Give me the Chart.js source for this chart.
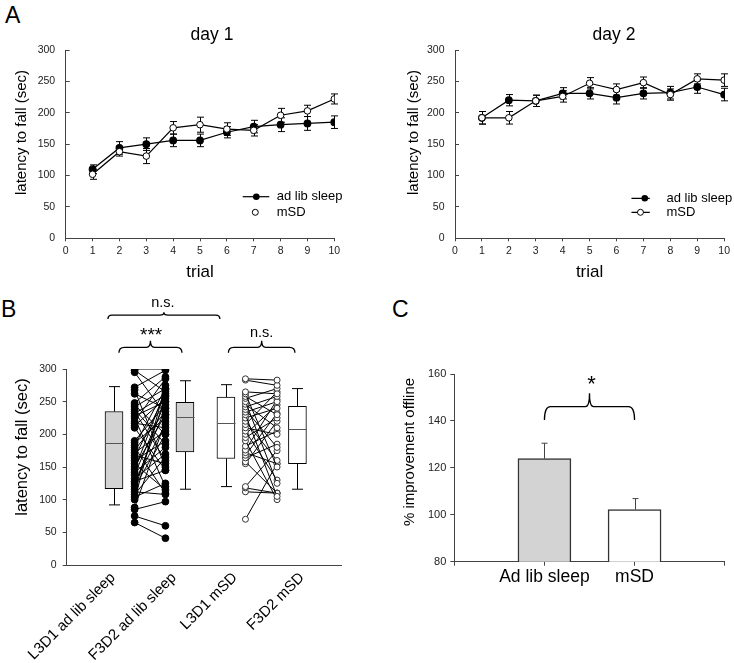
<!DOCTYPE html>
<html><head><meta charset="utf-8">
<script src="https://cdn.jsdelivr.net/npm/chart.js@4/dist/chart.umd.min.js"></script>
<style>
html,body{margin:0;padding:0;background:#fff;width:734px;height:663px;overflow:hidden;font-family:"Liberation Sans",Arial,sans-serif}
.pan{position:absolute}
.letter{position:absolute;font-size:23px;line-height:1;color:#000}
</style></head><body>
<div class="letter" style="left:5px;top:4px">A</div>
<div class="letter" style="left:1px;top:298px">B</div>
<div class="letter" style="left:392px;top:298px">C</div>
<canvas id="a1" class="pan" style="left:0;top:0" width="367" height="290"></canvas>
<canvas id="a2" class="pan" style="left:367px;top:0" width="367" height="290"></canvas>
<canvas id="b" class="pan" style="left:0;top:290px" width="367" height="373"></canvas>
<canvas id="c" class="pan" style="left:367px;top:290px" width="367" height="373"></canvas>
<script>
// ---------- data ----------
const trials = [1,2,3,4,5,6,7,8,9,10];
const day1AdLib    = [110,144,150,156,156,169,178,181,183,185];
const day1AdLibSem = [7,10,10,10,10,9,10,11,11,10];
const day1MSD      = [102,138,131,176,181,174,172,196,203,222];
const day1MSDSem   = [8,7,12,10,12,10,9,11,9,8];
const day2AdLib    = [192,220,219,231,231,224,231,232,241,229];
const day2AdLibSem = [10,9,9,9,9,10,9,10,10,10];
const day2MSD      = [192,192,219,226,247,237,248,229,254,252];
const day2MSDSem   = [10,10,9,9,9,9,9,9,8,10];
const seriesNames  = ['ad lib sleep','mSD'];

const boxCats = ['L3D1 ad lib sleep','F3D2 ad lib sleep','L3D1 mSD','F3D2 mSD'];
const boxLabelPos = [1.68,3.9,6.12,8.56];
const boxPos  = [1.72,4.3,5.79,8.39];
const boxMin  = [92,116,120,116];
const boxQ1   = [117,173,163,155];
const boxMed  = [186,226,217,208];
const boxQ3   = [235,249,257,243];
const boxMax  = [273,282,276,270];
const pairPosAdLib = [2.47,3.59];
const pairPosMSD   = [6.5,7.65];
const adLibL3D1 = [300,298,295,272,268,262,248,245,242,238,235,232,228,225,220,217,213,210,190,187,183,180,176,172,168,164,160,150,146,142,138,132,127,124,120,116,112,108,104,100,88,85,75,65,128,155];
const adLibF3D2 = [300,265,230,298,150,240,288,200,270,185,160,260,250,120,285,210,255,145,245,225,270,110,235,205,155,262,190,230,268,180,250,170,215,240,200,258,108,165,125,275,220,97,60,41,145,115];
const msdL3D1 = [285,283,265,262,258,255,250,246,242,238,234,230,225,220,215,210,205,200,195,190,182,176,172,168,164,158,155,120,118,112,70];
const msdF3D2 = [283,275,262,150,230,270,125,210,258,180,250,105,240,160,265,200,130,245,225,100,205,253,155,232,185,110,220,175,110,110,155];

const groupsC = ['Ad lib sleep','mSD'];
const meanC = [123.9,102.2];
const semC  = [6.6,4.7];

// ---------- helpers ----------
const FF = '"Liberation Sans", Arial, sans-serif';
Chart.defaults.font.family = FF;
Chart.defaults.color = '#222';
Chart.defaults.animation = false;
const AX = '#444';

function vtext(ctx, txt, x, y, size){
  ctx.save(); ctx.translate(x,y); ctx.rotate(-Math.PI/2);
  ctx.font = size+'px '+FF; ctx.fillStyle='#000'; ctx.textAlign='center'; ctx.textBaseline='middle';
  ctx.fillText(txt,0,0); ctx.restore();
}
function text(ctx, txt, x, y, size){
  ctx.save(); ctx.font = size+'px '+FF; ctx.fillStyle='#000'; ctx.textAlign='center'; ctx.textBaseline='middle';
  ctx.fillText(txt,x,y); ctx.restore();
}
function errBars(chart, xs, ys, es, cap, upOnly, color){
  const {ctx, scales:{x,y}} = chart;
  ctx.save(); ctx.strokeStyle=color; ctx.lineWidth=1;
  xs.forEach((xv,i)=>{
    const px = Math.round(x.getPixelForValue(xv))+0.5;
    const top = y.getPixelForValue(ys[i]+es[i]);
    const bot = upOnly ? y.getPixelForValue(ys[i]) : y.getPixelForValue(ys[i]-es[i]);
    ctx.beginPath(); ctx.moveTo(px,top); ctx.lineTo(px,bot);
    ctx.moveTo(px-cap/2,top); ctx.lineTo(px+cap/2,top);
    if(!upOnly){ ctx.moveTo(px-cap/2,bot); ctx.lineTo(px+cap/2,bot); }
    ctx.stroke();
  });
  ctx.restore();
}
function brace(chart, x1, x2, yEnd, yH, yPeak){
  const {ctx, scales:{x,y}} = chart;
  const p1=x.getPixelForValue(x1), p2=x.getPixelForValue(x2), pm=(p1+p2)/2;
  const ye=y.getPixelForValue(yEnd), yh=y.getPixelForValue(yH), yp=y.getPixelForValue(yPeak);
  const r=Math.min(6,(ye-yh));
  ctx.save(); ctx.strokeStyle='#000'; ctx.lineWidth=1.3;
  ctx.beginPath();
  ctx.moveTo(p1,ye); ctx.quadraticCurveTo(p1,yh,p1+r,yh);
  ctx.lineTo(pm-4,yh); ctx.quadraticCurveTo(pm,yh,pm,yp);
  ctx.quadraticCurveTo(pm,yh,pm+4,yh);
  ctx.lineTo(p2-r,yh); ctx.quadraticCurveTo(p2,yh,p2,ye);
  ctx.stroke(); ctx.restore();
}
function drawLegend(chart, lx1, lx2, mx, tx, y1, y2, lineOnSecond, mx2){
  const {ctx, chartArea:ca} = chart;
  ctx.save(); ctx.strokeStyle='#000'; ctx.lineWidth=1.2;
  const a = ca.bottom + y1, b = ca.bottom + y2;
  ctx.beginPath(); ctx.moveTo(ca.right+lx1,a); ctx.lineTo(ca.right+lx2,a);
  if(lineOnSecond){ ctx.moveTo(ca.right+lx1,b); ctx.lineTo(ca.right+lx2,b); }
  ctx.stroke();
  ctx.fillStyle='#000'; ctx.beginPath(); ctx.arc(ca.right+mx,a,3.3,0,Math.PI*2); ctx.fill();
  ctx.fillStyle='#fff'; ctx.lineWidth=1; ctx.beginPath(); ctx.arc(ca.right+mx2,b,3,0,Math.PI*2); ctx.fill(); ctx.stroke();
  ctx.font='13px '+FF; ctx.fillStyle='#000'; ctx.textAlign='left'; ctx.textBaseline='middle';
  ctx.fillText(seriesNames[0], ca.right+tx, a); ctx.fillText(seriesNames[1], ca.right+tx, b);
  ctx.restore();
}

function lineChart(id, adlib, adlibSem, msd, msdSem, padRight, yAxisW, title, titleX, yTitleX, legend){
  const mk = arr => trials.map((t,i)=>({x:t,y:arr[i]}));
  return new Chart(document.getElementById(id), {
    type:'line',
    data:{datasets:[
      {label:seriesNames[1], data:mk(msd), borderColor:'#000', borderWidth:1.2, pointRadius:3.3, pointBorderWidth:1, pointBackgroundColor:'#fff', pointBorderColor:'#000', tension:0},
      {label:seriesNames[0], data:mk(adlib), borderColor:'#000', borderWidth:1.2, pointRadius:3.3, pointBackgroundColor:'#000', pointBorderColor:'#000', tension:0}
    ]},
    options:{
      responsive:false, animation:false,
      layout:{padding:{left:0,top:50,right:padRight,bottom:0}},
      plugins:{legend:{display:false}, tooltip:{enabled:false}},
      scales:{
        x:{type:'linear', min:0, max:10,
           ticks:{stepSize:1, font:{size:10.5}, color:'#222', padding:4, maxRotation:0},
           grid:{drawOnChartArea:false, tickLength:3, color:AX},
           border:{color:AX, width:1},
           title:{display:true, text:'trial', font:{size:17}, color:'#000', padding:{top:0,bottom:7.8}},
           afterFit:s=>{s.height=51.7;}},
        y:{min:0, max:300,
           ticks:{stepSize:50, font:{size:10.5}, color:'#222', padding:14.5},
           grid:{drawOnChartArea:false, tickLength:-4, color:AX},
           border:{color:AX, width:1},
           afterFit:s=>{s.width=yAxisW;}}
      }
    },
    plugins:[{id:'extra'+id,
      beforeDatasetsDraw(chart){
        errBars(chart, trials, adlib, adlibSem, 7, false, '#000');
        errBars(chart, trials, msd, msdSem, 7, false, '#000');
      },
      afterDraw(chart){
        text(chart.ctx, title, titleX, 35, 17.5);
        vtext(chart.ctx, 'latency to fall (sec)', yTitleX, 132.5, 15);
        legend(chart);
      }}]
  });
}
lineChart('a1', day1AdLib, day1AdLibSem, day1MSD, day1MSDSem, 32.7, 65.7, 'day 1', 212, 22,
  ch=>drawLegend(ch,-91.6,-65,-78,-57.6,-41.6,-26,false,-79));
lineChart('a2', day2AdLib, day2AdLibSem, day2MSD, day2MSDSem, 9.3, 88, 'day 2', 247, 47,
  ch=>drawLegend(ch,-92.7,-74.4,-79.4,-57.7,-40,-26,true,-83.7));

// ---------- panel B ----------
const bDatasets = [{
  type:'bar', data: boxPos.map((x,i)=>({x:x, y:[boxQ1[i], boxQ3[i]]})),
  backgroundColor:['#d3d3d3','#d3d3d3','#fff','#fff'], borderColor:'#000', borderWidth:1,
  borderSkipped:false, barThickness:18, order:2
}];
adLibL3D1.forEach((v,i)=>bDatasets.push({type:'line', data:[{x:pairPosAdLib[0],y:v},{x:pairPosAdLib[1],y:adLibF3D2[i]}],
  borderColor:'#000', borderWidth:1, pointRadius:3.4, pointBackgroundColor:'#000', pointBorderColor:'#000', order:1}));
msdL3D1.forEach((v,i)=>bDatasets.push({type:'line', data:[{x:pairPosMSD[0],y:v},{x:pairPosMSD[1],y:msdF3D2[i]}],
  borderColor:'#000', borderWidth:1, pointRadius:3, pointBorderWidth:1, pointBackgroundColor:'#fff', pointBorderColor:'#333', order:1}));

new Chart(document.getElementById('b'), {
  type:'bar',
  data:{datasets:bDatasets},
  options:{
    responsive:false, animation:false,
    layout:{padding:{left:0,top:79,right:25.3,bottom:0}},
    plugins:{legend:{display:false}, tooltip:{enabled:false}},
    scales:{
      x:{type:'linear', min:0, max:10, offset:false,
         afterBuildTicks:s=>{ s.ticks = boxLabelPos.map(v=>({value:v})); },
         ticks:{callback:(v,i)=>boxCats[i], autoSkip:false, minRotation:45, maxRotation:45, font:{size:15}, color:'#000', padding:-4},
         grid:{display:false},
         border:{display:true, color:AX, width:1},
         afterFit:s=>{s.height=98;}},
      y:{min:0, max:300,
         ticks:{stepSize:50, font:{size:10.5}, color:'#222', padding:6},
         grid:{drawOnChartArea:false, tickLength:4, color:AX},
         border:{color:AX, width:1},
         afterFit:s=>{s.width=66.7;}}
    }
  },
  plugins:[{id:'boxB',
    afterDatasetsDraw(chart){
      const {ctx, scales:{x,y}} = chart;
      ctx.save(); ctx.strokeStyle='#000'; ctx.lineWidth=1;
      boxPos.forEach((bx,i)=>{
        const px = Math.round(x.getPixelForValue(bx))+0.5;
        const yMin=y.getPixelForValue(boxMin[i]), yQ1=y.getPixelForValue(boxQ1[i]);
        const yMed=Math.round(y.getPixelForValue(boxMed[i]))+0.5, yQ3=y.getPixelForValue(boxQ3[i]), yMax=y.getPixelForValue(boxMax[i]);
        ctx.beginPath();
        ctx.moveTo(px,yQ3); ctx.lineTo(px,yMax); ctx.moveTo(px-5.5,yMax); ctx.lineTo(px+5.5,yMax);
        ctx.moveTo(px,yQ1); ctx.lineTo(px,yMin); ctx.moveTo(px-5.5,yMin); ctx.lineTo(px+5.5,yMin);
        ctx.stroke();
        ctx.strokeStyle='#555'; ctx.beginPath(); ctx.moveTo(px-9,yMed); ctx.lineTo(px+9,yMed); ctx.stroke(); ctx.strokeStyle='#000';
      });
      ctx.restore();
    },
    afterDraw(chart){
      const ctx = chart.ctx;
      brace(chart, 1.5, 5.57, 376.5, 382.6, 387);
      brace(chart, 1.9, 4.19, 325, 333.2, 343.3);
      brace(chart, 5.88, 8.3, 325, 333.2, 343.3);
      const {x,y} = chart.scales;
      text(ctx, 'n.s.', x.getPixelForValue(3.5), y.getPixelForValue(401.7), 14.5);
      text(ctx, '***', x.getPixelForValue(3.07), y.getPixelForValue(358.7)+5, 19);
      text(ctx, 'n.s.', x.getPixelForValue(7.09), y.getPixelForValue(354.7), 14.5);
      vtext(ctx, 'latency to fall (sec)', 22, 157, 16.5);
    }}]
});

// ---------- panel C ----------
const cLabels = [''].concat(groupsC, ['']);
new Chart(document.getElementById('c'), {
  type:'bar',
  data:{labels:cLabels, datasets:[{
    data:[null].concat(meanC,[null]),
    backgroundColor:['#fff','#d3d3d3','#fff','#fff'], borderColor:'#333', borderWidth:1.5, barThickness:53
  }]},
  options:{
    responsive:false, animation:false,
    layout:{padding:{left:0,top:84,right:9.3,bottom:0}},
    plugins:{legend:{display:false}, tooltip:{enabled:false}},
    scales:{
      x:{offset:false,
         ticks:{font:{size:17.5}, color:'#000', padding:1, maxRotation:0, autoSkip:false},
         grid:{drawOnChartArea:false, offset:false, tickLength:4, color:AX},
         border:{color:AX, width:1},
         afterFit:s=>{s.height=101.3;}},
      y:{min:80, max:160,
         ticks:{stepSize:20, font:{size:11}, color:'#222', padding:4},
         grid:{drawOnChartArea:false, tickLength:4, color:AX},
         border:{color:AX, width:1},
         afterFit:s=>{s.width=87.3;}}
    }
  },
  plugins:[{id:'errC',
    beforeDatasetsDraw(chart){ errBars(chart, [1,2], meanC, semC, 6, true, '#444'); },
    afterDraw(chart){
      brace(chart, 1, 2, 140.4, 146.1, 151.8);
      const {x,y} = chart.scales;
      text(chart.ctx, '*', x.getPixelForValue(1.5)+2, y.getPixelForValue(157.4)+5, 22);
      vtext(chart.ctx, '% improvement offline', 43, 162, 15);
    }}]
});
</script>
</body></html>
